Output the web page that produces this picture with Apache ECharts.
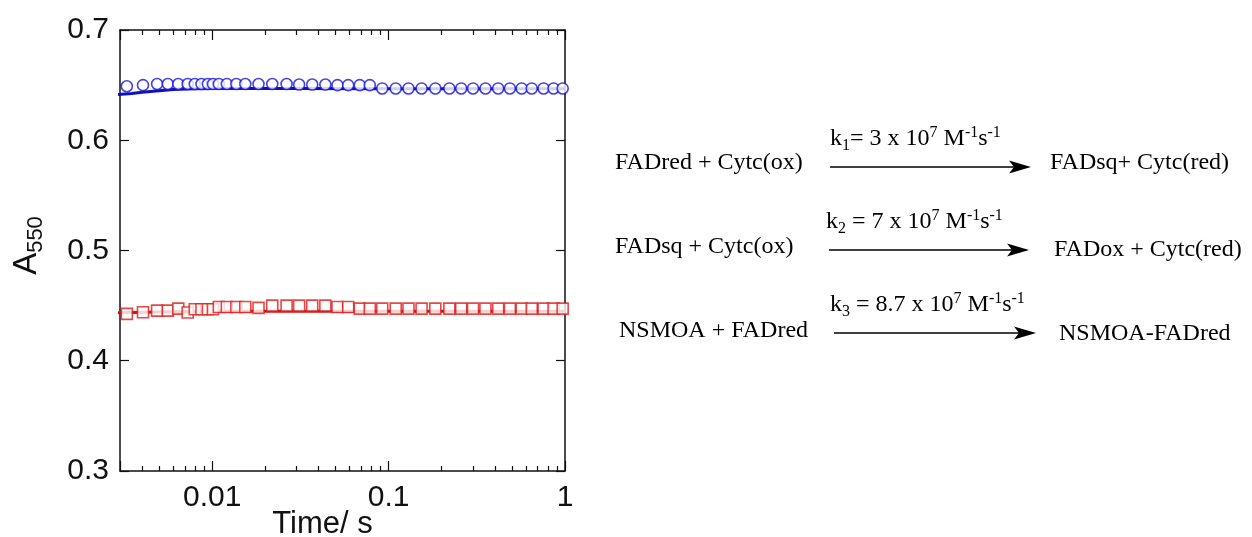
<!DOCTYPE html>
<html>
<head>
<meta charset="utf-8">
<script src="https://cdn.jsdelivr.net/npm/echarts@6/dist/echarts.min.js"></script>
<style>
  html, body { margin: 0; padding: 0; background: #fff; }
  #chart { width: 1252px; height: 537px; }
</style>
</head>
<body>
<div id="chart"></div>
<script>
// time points (s)
const times = [0.00328, 0.00405, 0.00487, 0.0056, 0.00642, 0.00726, 0.00796, 0.00869, 0.00945, 0.0101,
  0.0109, 0.0121, 0.0137, 0.0154, 0.0183, 0.0219, 0.0264, 0.0311, 0.0369, 0.0438,
  0.0513, 0.059, 0.0686, 0.0782, 0.092, 0.1097, 0.1296, 0.1538, 0.184, 0.221,
  0.258, 0.301, 0.354, 0.418, 0.487, 0.568, 0.648, 0.756, 0.861, 0.97]
// blue circles
const blueA = [0.649, 0.650, 0.651, 0.651, 0.651, 0.651, 0.651, 0.651, 0.651, 0.651,
  0.651, 0.651, 0.651, 0.651, 0.651, 0.651, 0.651, 0.6505, 0.6505, 0.6505,
  0.650, 0.650, 0.650, 0.650, 0.647, 0.647, 0.647, 0.647, 0.647, 0.647,
  0.647, 0.647, 0.647, 0.647, 0.647, 0.647, 0.647, 0.647, 0.647, 0.647]
// red squares
const redA = [0.4425, 0.444, 0.4455, 0.4455, 0.4473, 0.4437, 0.4467, 0.4467, 0.4467, 0.4467,
  0.4488, 0.4488, 0.4488, 0.4488, 0.448, 0.450, 0.450, 0.450, 0.450, 0.450,
  0.4488, 0.4488, 0.4473, 0.4473, 0.4473, 0.4473, 0.4473, 0.4473, 0.4473, 0.4473,
  0.4473, 0.4473, 0.4473, 0.4473, 0.4473, 0.4473, 0.4473, 0.4473, 0.4473, 0.4473]
// fitted curves
const fitT = [0.0029, 0.0035, 0.004, 0.005, 0.006, 0.008, 0.01, 0.03, 0.1, 0.3, 1]
const fitBlue = [0.6415, 0.6425, 0.6435, 0.645, 0.646, 0.6468, 0.647, 0.647, 0.6468, 0.6466, 0.6466]
const fitRed = [0.4435, 0.4438, 0.444, 0.4443, 0.4445, 0.4447, 0.4448, 0.445, 0.445, 0.445, 0.445]
// axes
const xMin = 0.003
const xMax = 1
const xLabels = [0.01, 0.1, 1]
const xMinor = [0.004, 0.005, 0.006, 0.007, 0.008, 0.009,
  0.02, 0.03, 0.04, 0.05, 0.06, 0.07, 0.08, 0.09,
  0.2, 0.3, 0.4, 0.5, 0.6, 0.7, 0.8, 0.9]
const yMin = 0.3
const yMax = 0.7
const yStep = 0.1

const blue = '#1414dc'
const red = '#e01a1a'
const ink = '#111'

const pairs = (xs, ys) => xs.map((x, i) => [x, ys[i]])

const sans = 'Liberation Sans, Arial, sans-serif'
const serif = 'Liberation Serif, Times New Roman, serif'

const logAxis = (pos, withLabels) => ({
  type: 'log',
  logBase: 10,
  position: pos,
  min: xMin,
  max: xMax,
  axisLine: { show: true, onZero: false, lineStyle: { color: ink, width: 1.5 } },
  axisTick: { show: true, inside: true, length: 10, lineStyle: { color: ink, width: 1.2 } },
  axisLabel: {
    show: withLabels,
    color: ink,
    fontFamily: sans,
    fontSize: 30,
    margin: 12,
    formatter: v => xLabels.some(t => Math.abs(v / t - 1) < 1e-6) ? String(+(+v).toPrecision(3)) : ''
  },
  splitLine: { show: false },
  minorTick: { show: false }
})

const minorAxis = pos => ({
  type: 'value',
  position: pos,
  min: Math.log10(xMin),
  max: Math.log10(xMax),
  axisLine: { show: false, onZero: false },
  axisTick: { show: true, inside: true, length: 5, customValues: xMinor.map(Math.log10), lineStyle: { color: ink, width: 1.2 } },
  axisLabel: { show: false },
  splitLine: { show: false }
})

const valAxis = (pos, withLabels) => ({
  type: 'value',
  position: pos,
  min: yMin,
  max: yMax,
  interval: yStep,
  axisLine: { show: true, onZero: false, lineStyle: { color: ink, width: 1.5 } },
  axisTick: { show: true, inside: true, length: 9, lineStyle: { color: ink, width: 1.2 } },
  axisLabel: { show: withLabels, color: ink, fontFamily: sans, fontSize: 30, margin: 11, formatter: v => v.toFixed(1) },
  splitLine: { show: false }
})

const xBottom = logAxis('bottom', true)
xBottom.name = 'Time/ s'
xBottom.nameLocation = 'middle'
xBottom.nameGap = 38
xBottom.nameMoveOverlap = false
xBottom.nameTextStyle = { color: ink, fontFamily: sans, fontSize: 31, padding: [0, 40, 0, 0] }

const yLeft = valAxis('left', true)
yLeft.name = '{a|A}{s|550}'
yLeft.nameLocation = 'middle'
yLeft.nameRotate = 90
yLeft.nameGap = 73
yLeft.nameMoveOverlap = false
yLeft.nameTextStyle = {
  color: ink,
  padding: [0, 0, 0, 10],
  rich: {
    a: { fontFamily: sans, fontSize: 33, lineHeight: 40, color: ink },
    s: { fontFamily: sans, fontSize: 22, lineHeight: 22, verticalAlign: 'bottom', color: ink }
  }
}

// reaction scheme on the right
const kRich = {
  n: { fontFamily: serif, fontSize: 24, lineHeight: 29, color: '#000' },
  b: { fontFamily: serif, fontSize: 16, lineHeight: 16, verticalAlign: 'bottom', color: '#000' },
  p: { fontFamily: serif, fontSize: 16, lineHeight: 20, verticalAlign: 'top', color: '#000' }
}
const rows = [
  { l: 'FADred + Cytc(ox)', k: '{n|k}{b|1}{n|= 3 x 10}{p|7}{n| M}{p|-1}{n|s}{p|-1}', r: 'FADsq+ Cytc(red)',
    lx: 615, ly: 163, kx: 830, ky: 139, ax1: 830, ax2: 1031, ay: 167, rx: 1050, ry: 163 },
  { l: 'FADsq + Cytc(ox)', k: '{n|k}{b|2}{n| = 7 x 10}{p|7}{n| M}{p|-1}{n|s}{p|-1}', r: 'FADox + Cytc(red)',
    lx: 615, ly: 247, kx: 826, ky: 222, ax1: 829, ax2: 1029, ay: 250, rx: 1054, ry: 250 },
  { l: 'NSMOA + FADred', k: '{n|k}{b|3}{n| = 8.7 x 10}{p|7}{n| M}{p|-1}{n|s}{p|-1}', r: 'NSMOA-FADred',
    lx: 619, ly: 331, kx: 830, ky: 305, ax1: 834, ax2: 1036, ay: 333, rx: 1059, ry: 334 }
]
const graphic = []
rows.forEach(o => {
  const plain = (text, x, y) => ({
    type: 'text', x: x, y: y,
    style: { text: text, fill: '#000', font: '24px ' + serif, verticalAlign: 'middle' }
  })
  graphic.push(plain(o.l, o.lx, o.ly))
  graphic.push(plain(o.r, o.rx, o.ry))
  graphic.push({ type: 'text', x: o.kx, y: o.ky, style: { text: o.k, rich: kRich, verticalAlign: 'middle' } })
  graphic.push({ type: 'line', shape: { x1: o.ax1, y1: o.ay, x2: o.ax2 - 10, y2: o.ay }, style: { stroke: '#000', lineWidth: 1.6 } })
  graphic.push({
    type: 'polygon',
    shape: { points: [[o.ax2, o.ay], [o.ax2 - 22, o.ay - 6.5], [o.ax2 - 17, o.ay], [o.ax2 - 22, o.ay + 6.5]] },
    style: { fill: '#000' }
  })
})

const chart = echarts.init(document.getElementById('chart'))
chart.setOption({
  animation: false,
  backgroundColor: '#fff',
  grid: { left: 120, right: 687, top: 30, bottom: 66, containLabel: false, outerBoundsMode: 'none' },
  xAxis: [xBottom, logAxis('top', false), minorAxis('bottom'), minorAxis('top')],
  yAxis: [yLeft, valAxis('right', false)],
  graphic: graphic,
  series: [
    {
      type: 'line', xAxisIndex: 0, yAxisIndex: 0, data: pairs(fitT, fitBlue), showSymbol: false,
      lineStyle: { color: '#1010c0', width: 3 }, z: 2, silent: true, clip: true
    },
    {
      type: 'line', xAxisIndex: 0, yAxisIndex: 0, data: pairs(fitT, fitRed), showSymbol: false,
      lineStyle: { color: '#d01010', width: 3 }, z: 2, silent: true, clip: true
    },
    {
      type: 'scatter', xAxisIndex: 0, yAxisIndex: 0, data: pairs(times, blueA), symbol: 'circle', symbolSize: 11,
      itemStyle: { color: '#fff', borderColor: blue, borderWidth: 1.6 }, z: 3, silent: true
    },
    {
      type: 'scatter', xAxisIndex: 0, yAxisIndex: 0, data: pairs(times, redA), symbol: 'rect', symbolSize: 11,
      itemStyle: { color: '#fff', borderColor: red, borderWidth: 1.6 }, z: 3, silent: true
    }
  ]
})
</script>
</body>
</html>
